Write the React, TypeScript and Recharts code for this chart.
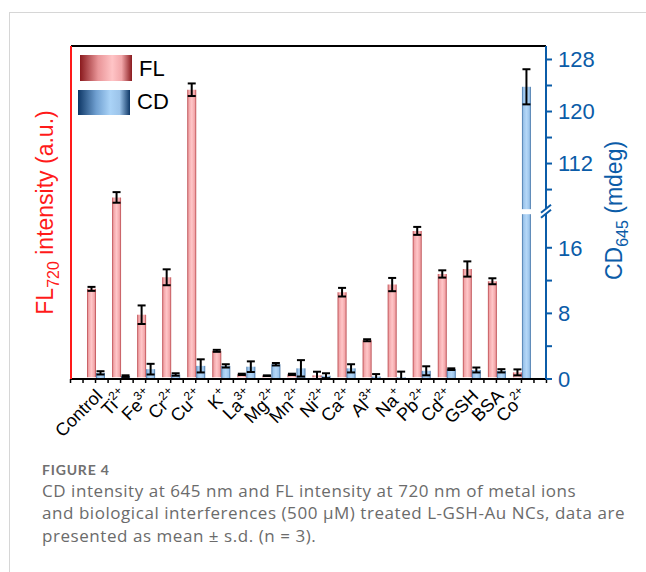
import React from 'react';
import { BarChart, Bar, XAxis, YAxis, ErrorBar, ReferenceLine } from 'recharts';

// categories along the x axis
const CATEGORIES = [
  'Control', 'Ti2+', 'Fe3+', 'Cr2+', 'Cu2+', 'K+', 'La3+', 'Mg2+', 'Mn2+',
  'Ni2+', 'Ca2+', 'Al3+', 'Na+', 'Pb2+', 'Cd2+', 'GSH', 'BSA', 'Co2+',
];

// FL720 intensity (a.u.)
const FL = [26.7, 54.3, 18.9, 30.2, 86.8, 8.0, 0.9, 0.5, 0.9, 0.6, 25.7, 11.2, 28.0, 44.2, 31.2, 32.7, 29.0, 1.5];
const FL_ERR = [0.6, 1.6, 2.8, 2.4, 1.9, 0.3, 0.2, 0.1, 0.2, 1.1, 1.3, 0.3, 2.0, 1.2, 1.1, 2.3, 0.9, 0.9];

// CD645 (mdeg)
const CD = [0.75, 0.35, 1.2, 0.55, 1.6, 1.6, 1.5, 1.8, 1.3, 0.4, 1.3, 0.3, 0.2, 1.0, 1.2, 1.1, 1.0, 123.8];
const CD_ERR = [0.2, 0.1, 0.65, 0.15, 0.8, 0.2, 0.65, 0.15, 1.0, 0.3, 0.5, 0.3, 0.7, 0.55, 0.1, 0.3, 0.2, 2.7];

// right axis ticks (mdeg); labelled ones are a subset
const CD_TICKS = [0, 4, 8, 12, 16, 108, 112, 116, 120, 124, 128];
const CD_LABELED = [0, 8, 16, 112, 120, 128];

// broken right axis: 0..BREAK_LO kept, BREAK_HI.. squeezed on top of it
const BREAK_LO = 20.4;
const BREAK_HI = 104.6;
const SQUEEZE = 0.793;
const CD_TOP = 40.6;
const toAxis = (v: number) => (v <= BREAK_LO ? v : BREAK_LO + (v - BREAK_HI) * SQUEEZE);
const fromAxis = (d: number) => (d <= BREAK_LO + 1e-6 ? d : BREAK_HI + (d - BREAK_LO) / SQUEEZE);

const RED = '#ff1a1a';
const BLUE = '#0b5ca8';
const FONT = '"Liberation Sans", Arial, sans-serif';
const CAPTION_FONT = '"Open Sans", sans-serif';

const rows = CATEGORIES.map((name, i) => ({
  name,
  fl: FL[i],
  flErr: FL_ERR[i],
  cd: toAxis(CD[i]),
  cdErr: [
    toAxis(CD[i]) - toAxis(Math.max(0, CD[i] - CD_ERR[i])),
    toAxis(CD[i] + CD_ERR[i]) - toAxis(CD[i]),
  ],
}));

const XTick = (props: any) => {
  const { x, y, payload, index, visibleTicksCount } = props;
  const half = 12.5;
  const name: string = payload.value;
  const m = name.match(/^([A-Z][a-z]?)(\d?[+-])$/);
  const tick = (tx: number) => <line x1={tx} y1={y} x2={tx} y2={y + 4} stroke="#000" strokeWidth={1.5} />;
  return (
    <g>
      {tick(x)}
      {tick(x - half)}
      {index === 0 && tick(x - 2 * half)}
      {index === visibleTicksCount - 1 && tick(x + half)}
      {index === visibleTicksCount - 1 && tick(x + 2 * half)}
      <text
        transform={`translate(${x + 8},${y + 18}) rotate(-45)`}
        textAnchor="end"
        fontSize={18}
        fontFamily={FONT}
        fill="#000"
      >
        {m ? (
          <>
            {m[1]}
            <tspan dy={-8} fontSize={12}>{m[2]}</tspan>
          </>
        ) : name}
      </text>
    </g>
  );
};

const CdTick = (props: any) => {
  const { x, y, payload } = props;
  const d = payload.value;
  if (Math.abs(d - BREAK_LO) < 1e-6) {
    return (
      <g>
        <polygon points={`${x - 5},${y + 1} ${x + 5},${y - 7} ${x + 5},${y - 2} ${x - 5},${y + 6}`} fill="#fff" />
        <line x1={x - 5} y1={y + 1} x2={x + 5} y2={y - 7} stroke={BLUE} strokeWidth={2} />
        <line x1={x - 5} y1={y + 6} x2={x + 5} y2={y - 2} stroke={BLUE} strokeWidth={2} />
      </g>
    );
  }
  const v = Math.round(fromAxis(d));
  return (
    <g>
      <line x1={x} y1={y} x2={x + 6} y2={y} stroke={BLUE} strokeWidth={2} />
      {CD_LABELED.includes(v) && (
        <text x={x + 12} y={y} dy="0.36em" fontSize={22} fontFamily={FONT} fill={BLUE}>
          {v}
        </text>
      )}
    </g>
  );
};

const CdBar = (props: any) => {
  const { x, y, width, height, payload } = props;
  if (!height || height <= 0) return null;
  const gapY = y + height - (height * BREAK_LO) / payload.cd;
  return (
    <g>
      <rect x={x} y={y} width={width} height={height} fill="url(#cdGrad)" />
      {payload.cd > BREAK_LO && <rect x={x - 1} y={gapY - 2.5} width={width + 2} height={5} fill="#fff" />}
    </g>
  );
};

const FlTitle = (props: any) => {
  const vb = props.viewBox || { x: 0, y: 46, width: 71, height: 333 };
  const cx = vb.x + 53;
  const cy = vb.y + vb.height / 2;
  return (
    <text transform={`translate(${cx},${cy}) rotate(-90)`} textAnchor="middle" fontSize={23} fontFamily={FONT} fill={RED}>
      FL<tspan dy={6} fontSize={16}>720</tspan>
      <tspan dy={-6}> intensity (a.u.)</tspan>
    </text>
  );
};

const CdTitle = (props: any) => {
  const vb = props.viewBox || { x: 546, y: 46, width: 100, height: 333 };
  const cx = vb.x + 76;
  const cy = vb.y + vb.height / 2 - 2;
  return (
    <text transform={`translate(${cx},${cy}) rotate(-90)`} textAnchor="middle" fontSize={23} fontFamily={FONT} fill={BLUE}>
      CD<tspan dy={6} fontSize={16}>645</tspan>
      <tspan dy={-6}> (mdeg)</tspan>
    </text>
  );
};

const captionLine = {
  position: 'absolute' as const, left: 42, fontFamily: CAPTION_FONT, fontSize: 17, letterSpacing: '0.55px',
  lineHeight: '18px', color: '#6b6b6b', whiteSpace: 'nowrap' as const,
};

export default function App() {
  return (
    <div style={{ position: 'absolute', left: 0, top: 0, width: 646, height: 572, background: '#fff', overflow: 'hidden' }}>
      {/* card border */}
      <div style={{ position: 'absolute', left: 9, top: 12, right: 0, height: 1, background: '#d6d6d6' }} />
      <div style={{ position: 'absolute', left: 9, top: 12, bottom: 0, width: 1, background: '#d6d6d6' }} />

      <div style={{ position: 'absolute', left: 0, top: 0 }}>
        <BarChart
          width={646}
          height={460}
          data={rows}
          margin={{ top: 46, right: 0, bottom: 0, left: 0 }}
          barSize={9}
          barGap={0}
        >
          <defs>
            <linearGradient id="flGrad" x1="0" y1="0" x2="1" y2="0">
              <stop offset="0%" stopColor="#b8454a" />
              <stop offset="18%" stopColor="#f2a6a9" />
              <stop offset="50%" stopColor="#ffc6c8" />
              <stop offset="82%" stopColor="#f2a6a9" />
              <stop offset="100%" stopColor="#b8454a" />
            </linearGradient>
            <linearGradient id="cdGrad" x1="0" y1="0" x2="1" y2="0">
              <stop offset="0%" stopColor="#3f6fa2" />
              <stop offset="18%" stopColor="#9cc5ec" />
              <stop offset="50%" stopColor="#b4d7f7" />
              <stop offset="82%" stopColor="#9cc5ec" />
              <stop offset="100%" stopColor="#3f6fa2" />
            </linearGradient>
          </defs>
          <XAxis
            dataKey="name"
            height={81}
            padding={{ left: 12, right: 12 }}
            interval={0}
            tickSize={0}
            tickMargin={0}
            tickLine={false}
            axisLine={{ stroke: '#000', strokeWidth: 2 }}
            tick={<XTick />}
          />
          <YAxis
            yAxisId="fl"
            width={71}
            domain={[0, 100]}
            tick={false}
            tickLine={false}
            axisLine={{ stroke: RED, strokeWidth: 2 }}
            label={(p: any) => <FlTitle {...p} />}
          />
          <YAxis
            yAxisId="cd"
            orientation="right"
            width={100}
            domain={[0, CD_TOP]}
            ticks={[...CD_TICKS.map(toAxis), BREAK_LO]}
            interval={0}
            tickSize={0}
            tickMargin={0}
            tickLine={false}
            axisLine={{ stroke: BLUE, strokeWidth: 2 }}
            tick={<CdTick />}
            label={(p: any) => <CdTitle {...p} />}
          />
          <ReferenceLine yAxisId="fl" y={100} stroke="#000" strokeWidth={2} />
          <Bar yAxisId="fl" dataKey="fl" fill="url(#flGrad)" isAnimationActive={false}>
            <ErrorBar dataKey="flErr" width={4} stroke="#000" strokeWidth={2} />
          </Bar>
          <Bar yAxisId="cd" dataKey="cd" fill="url(#cdGrad)" shape={(p: any) => <CdBar {...p} />} isAnimationActive={false}>
            <ErrorBar dataKey="cdErr" width={4} stroke="#000" strokeWidth={2} />
          </Bar>
        </BarChart>
      </div>

      {/* legend */}
      <div
        style={{
          position: 'absolute', left: 80, top: 55, width: 52, height: 26,
          background: 'linear-gradient(90deg, #8a1a1e 0%, #e99598 35%, #ffc4c6 62%, #f2a7aa 80%, #8a1a1e 100%)',
        }}
      />
      <div style={{ position: 'absolute', left: 139, top: 56, fontFamily: FONT, fontSize: 22, lineHeight: '26px', color: '#000' }}>FL</div>
      <div
        style={{
          position: 'absolute', left: 78, top: 90, width: 52, height: 25,
          background: 'linear-gradient(90deg, #0e3766 0%, #6f9fd0 35%, #aad3f7 62%, #9cc4ea 80%, #0e3766 100%)',
        }}
      />
      <div style={{ position: 'absolute', left: 137, top: 89, fontFamily: FONT, fontSize: 22, lineHeight: '26px', color: '#000' }}>CD</div>

      {/* caption */}
      <div
        style={{
          position: 'absolute', left: 42, top: 464, fontFamily: 'Lato, sans-serif', fontSize: 14, fontWeight: 700,
          letterSpacing: '0.8px', lineHeight: '12px', color: '#707070', whiteSpace: 'nowrap',
        }}
      >
        FIGURE 4
      </div>
      <div style={{ ...captionLine, top: 482 }}>CD intensity at 645 nm and FL intensity at 720 nm of metal ions</div>
      <div style={{ ...captionLine, top: 504 }}>and biological interferences (500 µM) treated L-GSH-Au NCs, data are</div>
      <div style={{ ...captionLine, top: 527 }}>presented as mean ± s.d. (n = 3).</div>
    </div>
  );
}
